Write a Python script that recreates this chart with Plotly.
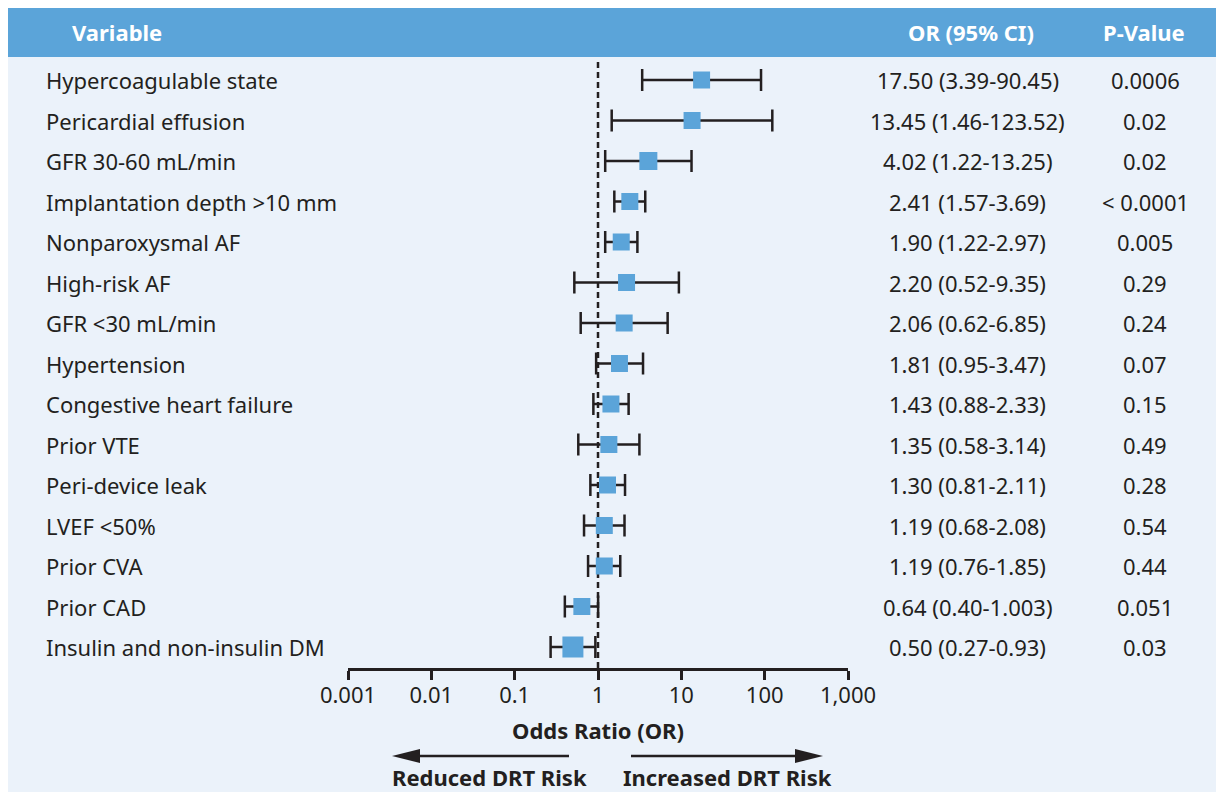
import plotly.graph_objects as go

# The page body adds an 8px margin, so the figure is drawn 8px in from the
# top-left corner of the window; coordinates below are given in window pixels.
OFF = 8
W, H = 1224 - 2 * OFF, 800 - 2 * OFF

variables = ["Hypercoagulable state", "Pericardial effusion", "GFR 30-60 mL/min",
             "Implantation depth >10 mm", "Nonparoxysmal AF", "High-risk AF",
             "GFR <30 mL/min", "Hypertension", "Congestive heart failure",
             "Prior VTE", "Peri-device leak", "LVEF <50%", "Prior CVA",
             "Prior CAD", "Insulin and non-insulin DM"]
odds = [17.50, 13.45, 4.02, 2.41, 1.90, 2.20, 2.06, 1.81, 1.43, 1.35, 1.30, 1.19, 1.19, 0.64, 0.50]
ci_low = [3.39, 1.46, 1.22, 1.57, 1.22, 0.52, 0.62, 0.95, 0.88, 0.58, 0.81, 0.68, 0.76, 0.40, 0.27]
ci_high = [90.45, 123.52, 13.25, 3.69, 2.97, 9.35, 6.85, 3.47, 2.33, 3.14, 2.11, 2.08, 1.85, 1.003, 0.93]
ci_text = ["17.50 (3.39-90.45)", "13.45 (1.46-123.52)", "4.02 (1.22-13.25)",
           "2.41 (1.57-3.69)", "1.90 (1.22-2.97)", "2.20 (0.52-9.35)",
           "2.06 (0.62-6.85)", "1.81 (0.95-3.47)", "1.43 (0.88-2.33)",
           "1.35 (0.58-3.14)", "1.30 (0.81-2.11)", "1.19 (0.68-2.08)",
           "1.19 (0.76-1.85)", "0.64 (0.40-1.003)", "0.50 (0.27-0.93)"]
p_values = ["0.0006", "0.02", "0.02", "< 0.0001", "0.005", "0.29", "0.24", "0.07",
            "0.15", "0.49", "0.28", "0.54", "0.44", "0.051", "0.03"]
marker_sizes = [17, 17, 18, 17, 17, 17, 17, 17, 17, 17, 17, 17, 17, 17, 21]
tick_vals = [0.001, 0.01, 0.1, 1, 10, 100, 1000]
tick_text = ["0.001", "0.01", "0.1", "1", "10", "100", "1,000"]

BLUE = "#5BA4D9"
BG = "#EBF2FA"
INK = "#231F20"
FONT = "Noto Sans"

n = len(variables)
ypos = [n - 1 - i for i in range(n)]


def px(x):
    return (x - OFF) / W


def py(y):
    return 1 - (y - OFF) / H


# y-axis mapping: row 0 at window pixel 80, last row at 647 -> 40.5 px/unit
step = 40.5
y_bottom_px, y_top_px = 668, 60
y_lo = -(y_bottom_px - 647) / step
y_hi = (n - 1) + (80 - y_top_px) / step

fig = go.Figure()

# reference dashed line at OR = 1
fig.add_trace(go.Scatter(x=[1, 1], y=[y_lo, y_hi], mode="lines",
                         line=dict(color=INK, width=2.5, dash="6px,4px"),
                         hoverinfo="skip", showlegend=False, cliponaxis=False))

fig.add_trace(go.Scatter(
    x=odds, y=ypos, mode="markers",
    marker=dict(symbol="square", size=marker_sizes, color=BLUE, opacity=1,
                line=dict(width=0)),
    error_x=dict(type="data", symmetric=False,
                 array=[h - o for h, o in zip(ci_high, odds)],
                 arrayminus=[o - l for o, l in zip(odds, ci_low)],
                 color=INK, thickness=2.5, width=11),
    showlegend=False, cliponaxis=False))

shapes = [
    dict(type="rect", xref="paper", yref="paper", x0=0, x1=1, y0=py(57), y1=1,
         fillcolor=BLUE, line=dict(width=0), layer="below"),
    # arrows
    dict(type="line", xref="paper", yref="paper", x0=px(569), x1=px(410), y0=py(756), y1=py(756),
         line=dict(color=INK, width=2.5)),
    dict(type="path", xref="paper", yref="paper",
         path=f"M {px(392)} {py(756)} L {px(420)} {py(749)} L {px(420)} {py(763)} Z",
         fillcolor=INK, line=dict(width=0)),
    dict(type="line", xref="paper", yref="paper", x0=px(631), x1=px(805), y0=py(756), y1=py(756),
         line=dict(color=INK, width=2.5)),
    dict(type="path", xref="paper", yref="paper",
         path=f"M {px(823)} {py(756)} L {px(795)} {py(749)} L {px(795)} {py(763)} Z",
         fillcolor=INK, line=dict(width=0)),
]

annotations = []
txt = dict(family=FONT, size=22, color=INK)
bold = dict(family=FONT, size=22, color=INK, weight="bold")
hdr = dict(family=FONT, size=22, color="white", weight="bold")

annotations.append(dict(text="Variable", x=px(70), y=py(32), xref="paper", yref="paper",
                        xanchor="left", yanchor="middle", showarrow=False, font=hdr))
annotations.append(dict(text="OR (95% CI)", x=px(971), y=py(32), xref="paper", yref="paper",
                        xanchor="center", yanchor="middle", showarrow=False, font=hdr))
annotations.append(dict(text="P-Value", x=px(1144), y=py(32), xref="paper", yref="paper",
                        xanchor="center", yanchor="middle", showarrow=False, font=hdr))

for v, c, p, y in zip(variables, ci_text, p_values, ypos):
    annotations.append(dict(text=v, x=px(44), y=y, xref="paper", yref="y",
                            xanchor="left", yanchor="middle", showarrow=False, font=txt))
    annotations.append(dict(text=c, x=px(968), y=y, xref="paper", yref="y",
                            xanchor="center", yanchor="middle", showarrow=False, font=txt))
    annotations.append(dict(text=p, x=px(1145), y=y, xref="paper", yref="y",
                            xanchor="center", yanchor="middle", showarrow=False, font=txt))

annotations.append(dict(text="Odds Ratio (OR)", x=px(598), y=py(730), xref="paper", yref="paper",
                        xanchor="center", yanchor="middle", showarrow=False, font=bold))
annotations.append(dict(text="Reduced DRT Risk", x=px(489), y=py(777), xref="paper", yref="paper",
                        xanchor="center", yanchor="middle", showarrow=False, font=bold))
annotations.append(dict(text="Increased DRT Risk", x=px(727), y=py(777), xref="paper", yref="paper",
                        xanchor="center", yanchor="middle", showarrow=False, font=bold))

fig.update_layout(
    width=W, height=H,
    margin=dict(l=0, r=0, t=0, b=0, autoexpand=False),
    paper_bgcolor=BG, plot_bgcolor="rgba(0,0,0,0)",
    font=dict(family=FONT, size=22, color=INK),
    shapes=shapes, annotations=annotations,
    xaxis=dict(type="log", range=[-3, 3], domain=[px(348), px(848)],
               showline=True, linewidth=2.5, linecolor=INK,
               ticks="outside", ticklen=9, tickwidth=2.5, tickcolor=INK,
               tickvals=tick_vals, ticktext=tick_text, ticklabelstandoff=-3,
               tickfont=dict(family=FONT, size=22, color=INK),
               showgrid=False, zeroline=False, fixedrange=True),
    yaxis=dict(range=[y_lo, y_hi], domain=[py(y_bottom_px), py(y_top_px)],
               visible=False, showgrid=False, zeroline=False, fixedrange=True),
)

fig.write_html("out.html")
